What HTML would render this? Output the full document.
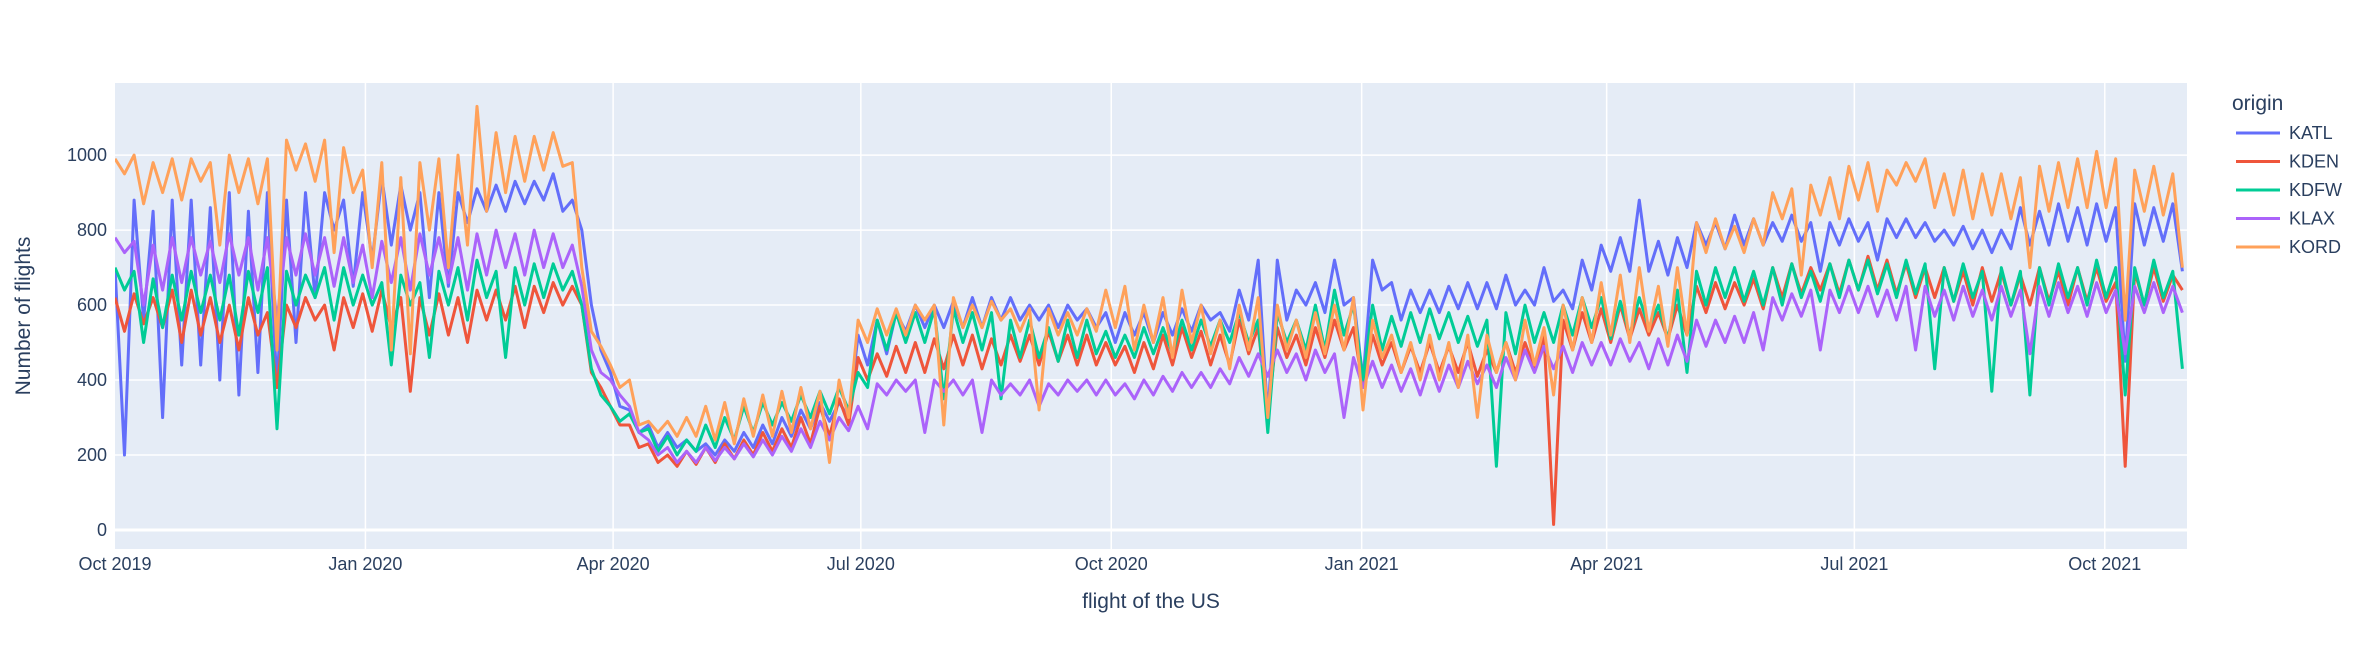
<!DOCTYPE html>
<html><head><meta charset="utf-8">
<style>
html,body{margin:0;padding:0;background:#fff;}
svg{display:block;font-family:"Liberation Sans",Arial,sans-serif;}
</style></head>
<body>
<svg id="chart" width="2369" height="664" viewBox="0 0 2369 664" xmlns="http://www.w3.org/2000/svg">
<rect x="115" y="83" width="2072" height="466" fill="#E5ECF6"/>
<g id="grid"></g>
<g id="series" clip-path="url(#clip)"></g>
<defs><clipPath id="clip"><rect x="115" y="83" width="2072" height="466"/></clipPath></defs>
<g id="ticks" fill="#2a3f5f" font-size="18"></g>
<text x="1151" y="608" text-anchor="middle" font-size="21" fill="#2a3f5f">flight of the US</text>
<text transform="translate(30,316) rotate(-90)" text-anchor="middle" font-size="21" fill="#2a3f5f">Number of flights</text>
<g id="legend">
<text x="2232" y="110" font-size="21" fill="#2a3f5f">origin</text>
</g>
</svg>
<script>
const seriesNames = ["KATL","KDEN","KDFW","KLAX","KORD"];
const seriesColors = ["#636efa","#EF553B","#00cc96","#ab63fa","#FFA15A"];
const yTicks = [0,200,400,600,800,1000];
const xTickLabels = ["Oct 2019","Jan 2020","Apr 2020","Jul 2020","Oct 2020","Jan 2021","Apr 2021","Jul 2021","Oct 2021"];
const xTickDays = [0,92,183,274,366,458,548,639,731];
const startDate = "2019-10-01";
const stepDays = 3.5;
const KATL = [700,200,880,560,850,300,880,440,
880,440,860,400,900,360,850,420,900,380,
880,500,900,620,900,800,880,650,
900,720,940,760,920,800,900,620,900,650,
900,820,910,850,920,850,930,870,
930,880,950,850,880,800,600,480,420,330,
320,260,280,220,260,220,240,210,
230,200,240,210,260,220,280,230,
300,250,320,270,340,290,340,300,
520,440,560,470,580,530,600,540,600,540,
610,540,620,540,620,560,620,560,
600,560,600,540,600,560,590,540,
580,500,580,520,580,500,580,520,590,530,
600,560,580,530,640,560,720,300,720,560,
640,600,660,580,720,600,620,400,
720,640,660,560,640,580,640,580,
650,590,660,590,660,590,680,600,
640,600,700,610,640,590,720,640,
760,690,780,690,880,690,770,680,780,700,
820,760,820,750,840,760,830,760,
820,770,840,770,820,690,820,760,830,770,
820,720,830,780,830,780,820,770,
800,760,810,750,800,740,800,750,
860,760,850,760,870,770,860,760,
870,770,860,450,870,760,860,770,870,690];
const KDEN = [620,530,630,550,620,540,640,500,
640,520,620,500,600,480,620,520,580,380,
600,540,620,560,600,480,620,540,
630,530,640,540,620,370,620,520,630,520,
620,500,640,560,640,560,650,540,
650,580,660,600,650,600,420,380,330,280,
280,220,230,180,200,170,210,175,
220,180,230,190,240,200,260,210,
270,220,300,230,330,250,350,280,
460,400,470,410,490,420,500,420,510,430,
520,440,520,430,510,440,520,450,
520,440,530,450,520,440,520,440,
500,440,490,420,500,430,520,440,540,460,
530,440,520,440,560,470,540,300,540,460,
520,440,540,460,560,480,540,380,
520,440,500,420,490,420,500,420,
490,420,500,410,480,420,500,420,
500,430,520,15,560,480,580,500,
590,500,600,510,590,520,580,510,600,520,
650,580,660,590,660,600,670,590,
700,620,710,630,700,640,710,630,720,640,
730,640,720,630,710,620,700,620,
700,610,690,600,700,610,690,600,
680,600,700,610,690,600,700,610,
700,610,660,170,690,600,700,610,680,640];
const KDFW = [700,640,690,500,670,540,680,560,
690,580,680,560,680,520,690,580,700,270,
690,600,680,620,700,560,700,600,
680,600,660,440,680,600,660,460,690,600,
700,560,720,620,690,460,700,600,
710,620,710,640,690,600,430,360,330,290,
310,260,270,210,250,200,240,210,
280,220,300,240,330,260,340,280,
340,290,360,300,370,310,380,320,
420,380,560,480,580,500,580,500,590,350,
590,500,580,480,580,350,560,460,
560,460,540,450,560,460,560,470,
530,460,520,460,540,470,540,470,560,480,
560,490,560,500,580,500,560,260,580,500,
560,480,600,480,640,520,600,400,
600,480,570,490,580,500,590,510,
580,500,570,490,560,170,580,470,
600,500,580,500,600,520,620,540,
620,510,610,520,620,540,600,510,640,420,
690,600,700,620,700,610,690,600,
700,600,710,620,690,610,710,620,720,640,
720,630,710,620,720,630,710,430,
700,610,710,620,690,370,700,600,
690,360,700,600,710,620,700,600,
720,620,700,360,700,600,720,620,690,430];
const KLAX = [780,740,770,600,760,640,780,660,
780,680,770,660,790,680,780,640,780,560,
780,680,790,680,780,650,780,660,
760,620,770,660,780,640,790,680,780,660,
780,640,790,680,800,700,790,680,
800,700,790,700,760,650,480,420,400,360,
330,260,240,200,220,180,210,180,
220,185,220,190,230,195,240,200,
250,210,270,220,290,240,300,265,
330,270,390,360,400,370,400,260,400,370,
400,360,400,260,400,360,390,360,
400,330,390,360,400,370,400,360,
400,360,390,350,400,360,410,370,420,380,
420,380,430,390,460,410,470,410,480,420,
470,400,480,420,470,300,460,380,
450,380,440,370,430,360,440,370,
440,380,450,390,440,380,460,400,
480,420,490,430,490,420,500,440,
500,440,510,450,500,430,510,440,520,450,
560,490,560,500,570,500,580,480,
620,560,630,570,640,480,640,580,650,580,
650,570,640,560,650,480,650,570,
640,560,650,570,640,560,650,570,
640,470,650,570,660,580,650,570,
660,580,640,470,650,580,660,580,650,580];
const KORD = [990,950,1000,870,980,900,990,880,
990,930,980,760,1000,900,990,870,990,480,
1040,960,1030,930,1040,740,1020,900,
960,700,980,480,940,470,980,800,990,700,
1000,760,1130,850,1060,900,1050,930,
1050,960,1060,970,980,700,530,490,440,380,
400,280,290,260,290,250,300,250,
330,240,340,230,350,250,360,250,
370,260,380,270,370,180,400,300,
560,500,590,520,590,520,600,560,600,280,
620,540,600,540,610,560,590,530,
590,320,590,520,580,520,590,530,
640,540,650,480,600,500,620,460,640,500,
600,470,560,430,600,480,620,300,600,480,
560,460,580,470,600,480,620,320,
560,460,520,420,500,400,520,400,
500,380,520,300,520,420,500,400,
560,440,540,360,600,480,620,500,
660,520,680,500,700,530,650,490,700,520,
820,740,830,750,810,740,830,760,
900,830,910,680,920,840,940,830,970,880,
980,850,960,920,980,930,990,860,
950,840,960,830,950,840,950,830,
940,700,970,850,980,860,990,860,
1010,860,990,560,960,850,970,840,950,700];
const seriesValues = [KATL,KDEN,KDFW,KLAX,KORD];

const NS = "http://www.w3.org/2000/svg";
const X0 = 115, X1 = 2187, Y0 = 530, PXDAY = 2.722, PXVAL = 0.3749;
function xScale(day){ return X0 + day*PXDAY; }
function yScale(v){ return Y0 - v*PXVAL; }
function mk(tag, attrs, parent){ const e = document.createElementNS(NS, tag); for (const k in attrs) e.setAttribute(k, attrs[k]); parent.appendChild(e); return e; }

const grid = document.getElementById('grid');
const ticks = document.getElementById('ticks');
yTicks.forEach(function(v){
  const l = mk('line', {x1:X0, x2:X1, y1:yScale(v), y2:yScale(v), stroke:'#fff', 'stroke-width': v===0?3:1.5}, grid);
  
  
  const t = mk('text', {x:107, y:yScale(v)+6, 'text-anchor':'end'}, ticks);
  t.textContent = v;
  
  
});
xTickDays.forEach(function(d, i){
  const x = xScale(d);
  if (i > 0) {
    const l = mk('line', {x1:x, x2:x, y1:83, y2:549, stroke:'#fff', 'stroke-width':1.5}, grid);
    
    
  }
  const t = mk('text', {x:x, y:570, 'text-anchor':'middle'}, ticks);
  t.textContent = xTickLabels[i];
  
  
});

const sg = document.getElementById('series');
seriesValues.forEach(function(vals, s){
  const pts = vals.map(function(v, j){ return xScale(j*stepDays).toFixed(1) + ',' + yScale(v).toFixed(1); }).join(' ');
  const p = mk('polyline', {points:pts, fill:'none', stroke:seriesColors[s], 'stroke-width':3, 'stroke-linejoin':'round'}, sg);
  
  
});

const lg = document.getElementById('legend');
seriesNames.forEach(function(n, i){
  const y = 133 + i*28.5;
  const g = mk('g', {}, lg);
  
  
  mk('line', {x1:2236, x2:2280, y1:y, y2:y, stroke:seriesColors[i], 'stroke-width':3}, g);
  const t = mk('text', {x:2289, y:y+6, 'font-size':18, fill:'#2a3f5f'}, g);
  t.textContent = n;
});
</script>
</body></html>
